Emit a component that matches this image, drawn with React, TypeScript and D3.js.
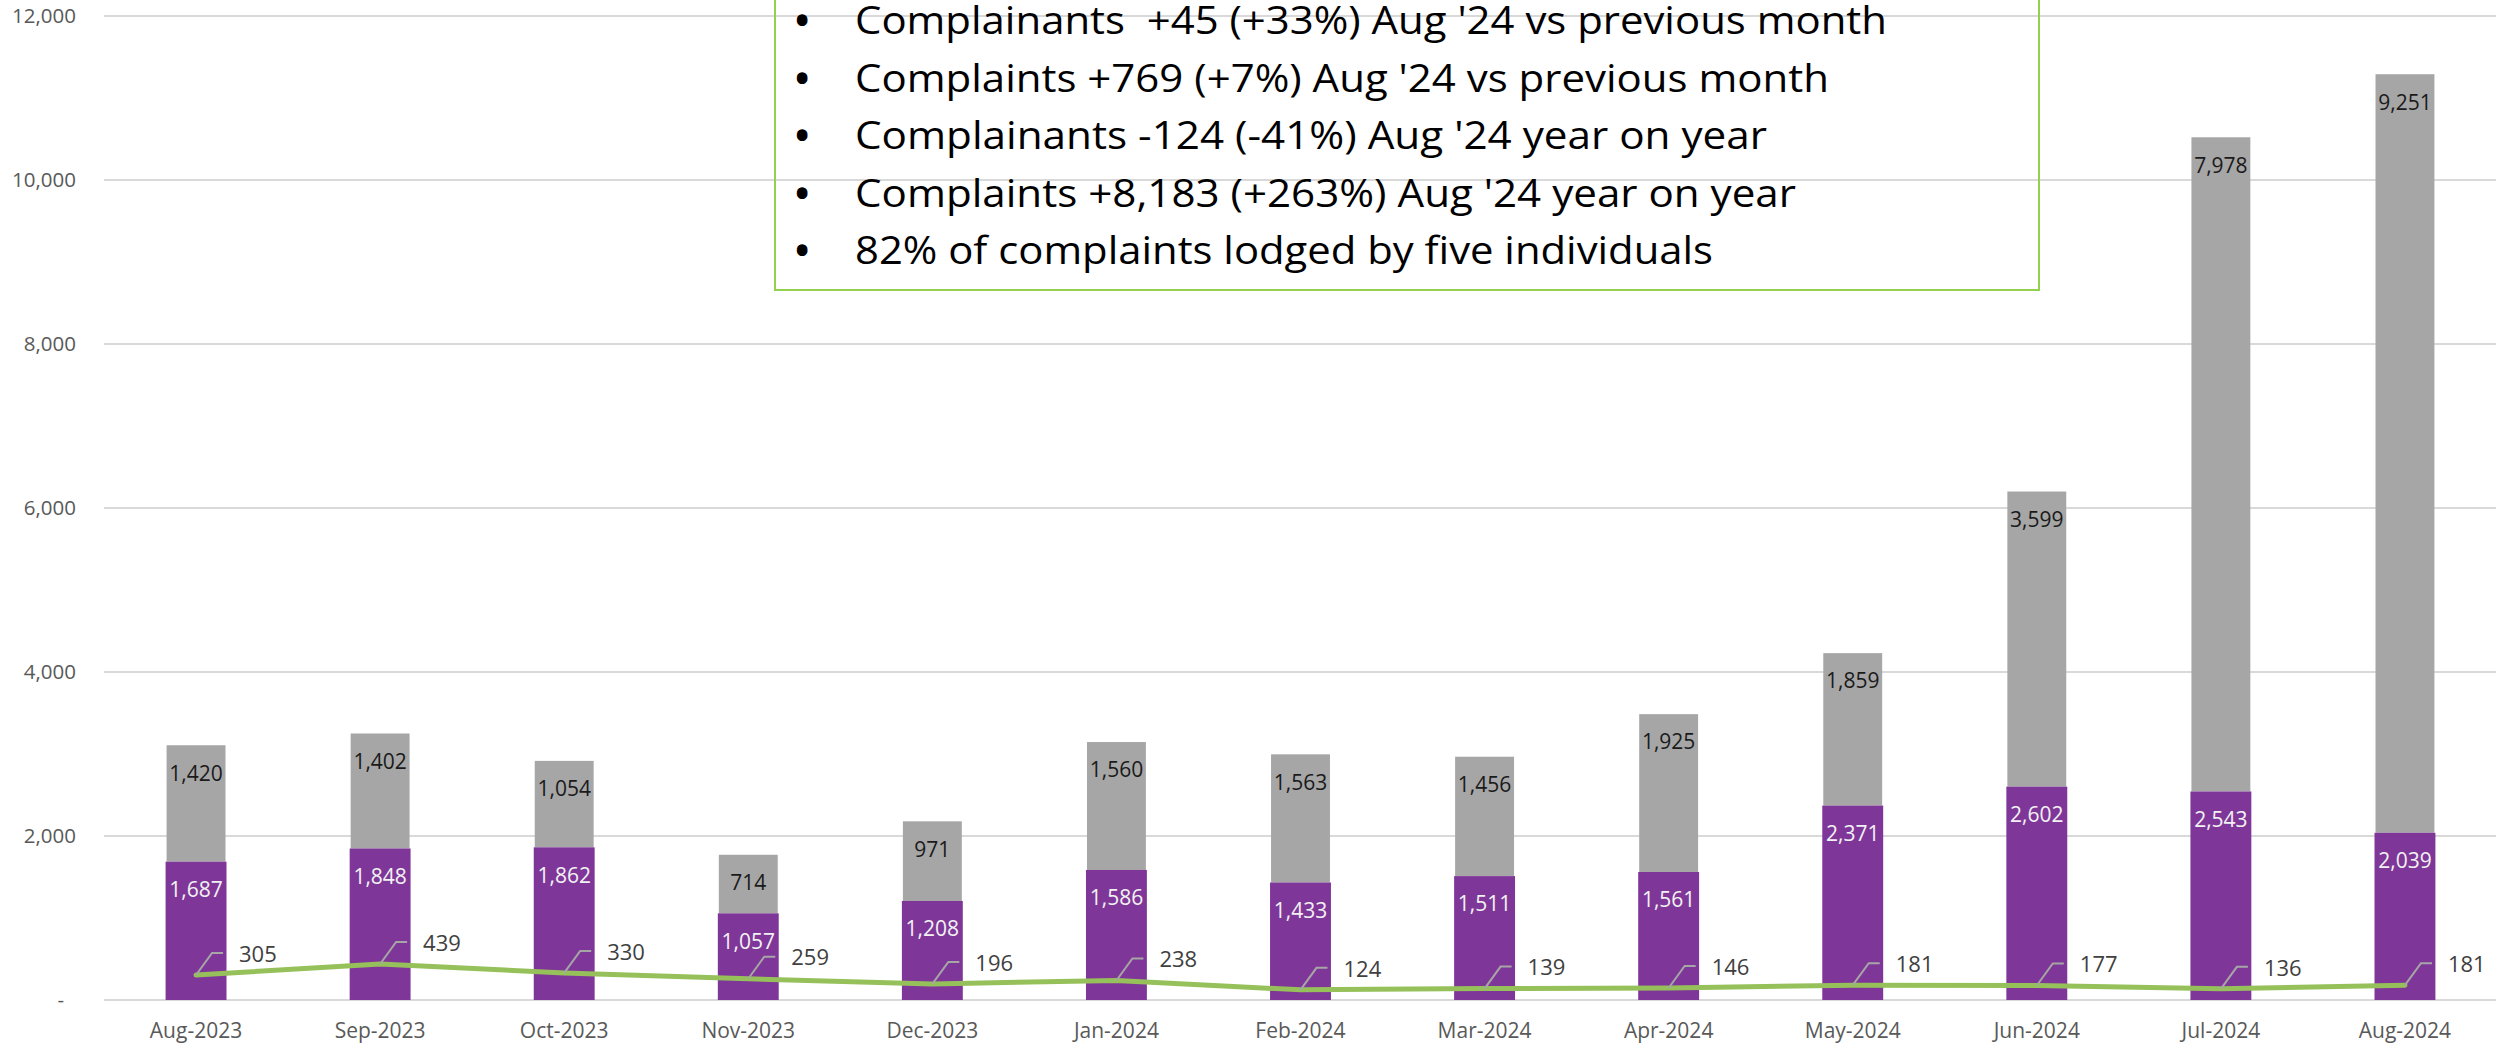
import * as d3 from 'd3';
import React from 'react';

const months = ['Aug-2023', 'Sep-2023', 'Oct-2023', 'Nov-2023', 'Dec-2023', 'Jan-2024', 'Feb-2024', 'Mar-2024', 'Apr-2024', 'May-2024', 'Jun-2024', 'Jul-2024', 'Aug-2024'];
const purpleValues = [1687, 1848, 1862, 1057, 1208, 1586, 1433, 1511, 1561, 2371, 2602, 2543, 2039];
const greyValues = [1420, 1402, 1054, 714, 971, 1560, 1563, 1456, 1925, 1859, 3599, 7978, 9251];
const complainants = [305, 439, 330, 259, 196, 238, 124, 139, 146, 181, 177, 136, 181];
const yTicks = [0, 2000, 4000, 6000, 8000, 10000, 12000];
const notes = [
	"Complainants  +45 (+33%) Aug '24 vs previous month",
	"Complaints +769 (+7%) Aug '24 vs previous month",
	"Complainants -124 (-41%) Aug '24 year on year",
	"Complaints +8,183 (+263%) Aug '24 year on year",
	"82% of complaints lodged by five individuals",
];
const noteWidths = [1032, 974, 912, 941, 858];

const W = 2496;
const H = 1045;
const FONT = "'Open Sans', sans-serif";

const App = () => {
	const x = d3.scaleBand().domain(months).range([104, 2497]).paddingInner(0.68).paddingOuter(0.34);
	const y = d3.scaleLinear().domain([0, 12000]).range([1000, 16]);
	const fmt = d3.format(',');
	const cx = (m: string) => (x(m) as number) + x.bandwidth() / 2;

	const line = d3
		.line<number>()
		.x((_, i) => cx(months[i]))
		.y((d) => y(d));

	return (
		<div style={{ position: 'absolute', left: 0, top: 0 }}>
			<svg width={W} height={H} style={{ display: 'block', background: '#fff' }} fontFamily={FONT}>
				{/* gridlines */}
				{yTicks.map((t) => (
					<line key={t} x1={104} x2={W} y1={y(t)} y2={y(t)} stroke="#D9D9D9" strokeWidth={2} />
				))}
				{yTicks.map((t) => (
					<text
						key={'l' + t}
						x={t === 0 ? 64 : 76}
						y={y(t)}
						dy="0.35em"
						textAnchor="end"
						fontSize={20.5}
						fill="#595959"
					>
						{t === 0 ? '-' : fmt(t)}
					</text>
				))}

				{/* stacked bars */}
				{months.map((m, i) => {
					const p = purpleValues[i];
					const g = greyValues[i];
					return (
						<g key={m}>
							<rect x={x(m)} y={y(p + g)} width={x.bandwidth()} height={y(p) - y(p + g)} fill="#A6A6A6" />
							<rect x={(x(m) as number) - 1} y={y(p)} width={x.bandwidth() + 2} height={y(0) - y(p)} fill="#7F3699" />
							<text x={cx(m)} y={y(p + g) + 28} dy="0.35em" textAnchor="middle" fontSize={21} fill="#1A1A1A">
								{fmt(g)}
							</text>
							<text x={cx(m)} y={y(p) + 28} dy="0.35em" textAnchor="middle" fontSize={21} fill="#F2F2F2">
								{fmt(p)}
							</text>
							<text x={cx(m)} y={1031} dy="0.35em" textAnchor="middle" fontSize={21} fill="#595959">
								{m}
							</text>
						</g>
					);
				})}

				{/* complainants line */}
				<path d={line(complainants) || ''} fill="none" stroke="#96C15A" strokeWidth={5} strokeLinecap="round" strokeLinejoin="round" />
				{complainants.map((v, i) => {
					const px = cx(months[i]);
					const py = y(v);
					return (
						<g key={'c' + i}>
							<path
								d={`M${px},${py} L${px + 16},${py - 22} L${px + 27},${py - 22}`}
								fill="none"
								stroke="#A6A6A6"
								strokeWidth={2}
							/>
							<text x={px + 43} y={py - 21} dy="0.35em" fontSize={22} fill="#404040">
								{v}
							</text>
						</g>
					);
				})}

				{/* notes box */}
				<rect x={775} y={-20} width={1264} height={310} fill="none" stroke="#92D050" strokeWidth={2} />
				{notes.map((n, i) => (
					<text key={'n' + i} y={21 + 57.5 * i} dy="0.35em" fontSize={38} fill="#000" style={{ whiteSpace: 'pre' }}>
						<tspan x={795} fontWeight="bold">•</tspan>
						<tspan x={855} textLength={noteWidths[i]} lengthAdjust="spacingAndGlyphs">
							{n}
						</tspan>
					</text>
				))}
			</svg>
		</div>
	);
};

export default App;
